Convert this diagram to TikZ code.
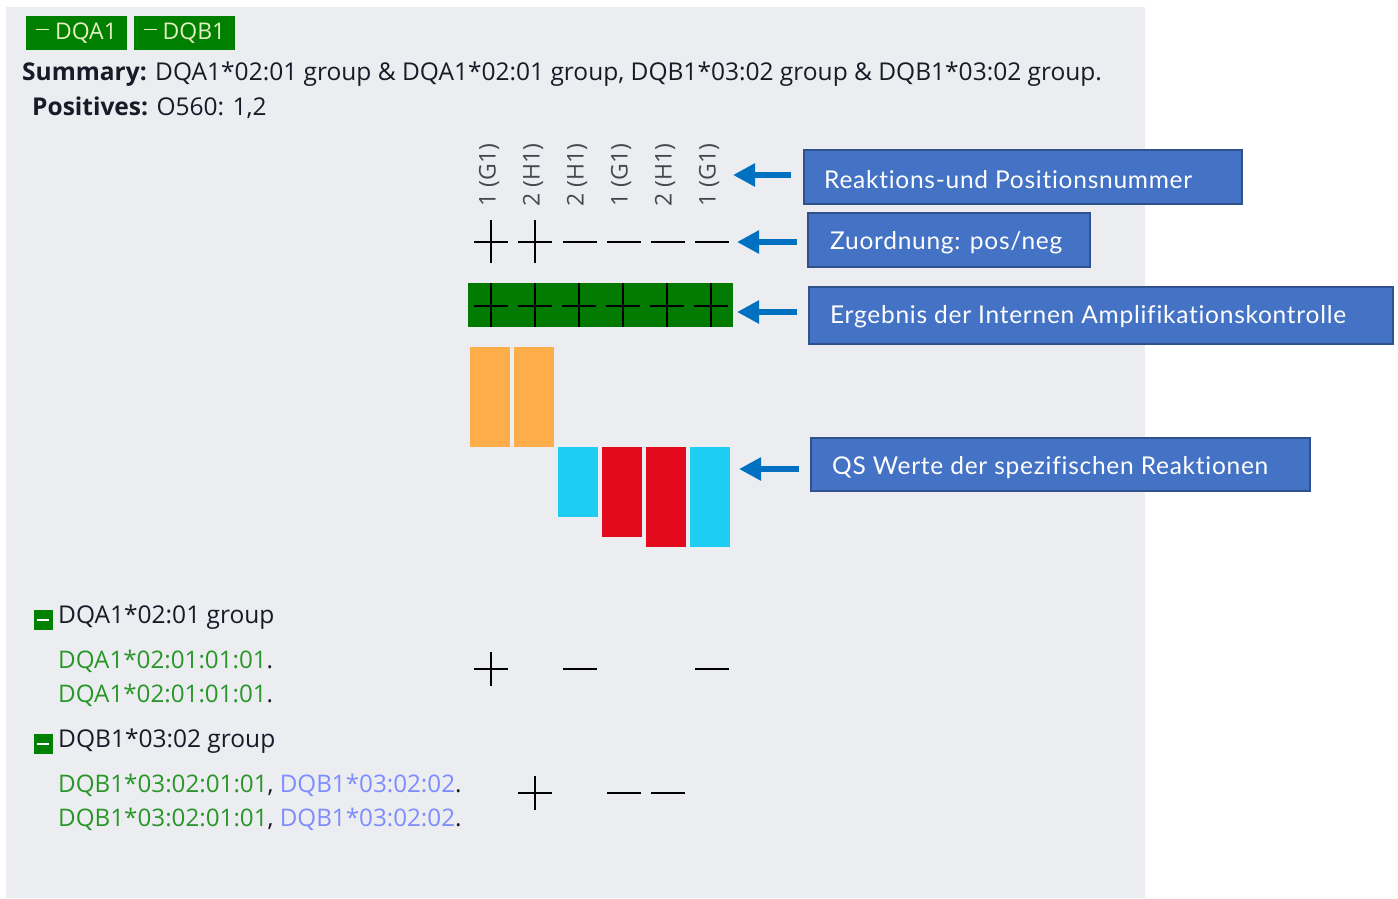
\documentclass[tikz,border=0pt]{standalone}
\usepackage{fontspec}
\setmainfont{Open Sans}
\newfontfamily\calloutfont[LetterSpace=3,Ligatures=NoCommon]{Lato}
\usetikzlibrary{arrows.meta}
\definecolor{bggrey}{RGB}{236,237,240}
\definecolor{btngreen}{RGB}{0,128,0}
\definecolor{bargreen}{RGB}{0,122,0}
\definecolor{btntext}{RGB}{228,238,192}
\definecolor{barorange}{RGB}{255,173,74}
\definecolor{barcyan}{RGB}{30,205,242}
\definecolor{barred}{RGB}{228,10,30}
\definecolor{callfill}{RGB}{68,114,196}
\definecolor{calldraw}{RGB}{47,82,143}
\definecolor{arrowblue}{RGB}{0,112,192}
\definecolor{greentext}{RGB}{40,150,40}
\definecolor{bluetext}{RGB}{125,140,255}
\definecolor{darktext}{RGB}{25,25,40}
\definecolor{labeltext}{RGB}{70,70,80}
\tikzset{
  btn/.style={fill=btngreen, draw=none, minimum width=101pt, minimum height=34pt, inner sep=0pt, text=btntext, font=\fontsize{23}{26}\selectfont},
  maintext/.style={anchor=west, inner sep=0pt, text=darktext, font=\fontsize{24.5}{28}\selectfont},
  subtext/.style={anchor=west, inner sep=0pt, text=greentext, font=\fontsize{24.2}{28}\selectfont},
  collabel/.style={rotate=90, inner sep=0pt, text=labeltext, font=\fontsize{23}{26}\selectfont},
  callout/.style={fill=callfill, draw=calldraw, line width=2pt, anchor=north west, inner sep=0pt},
  callouttext/.style={anchor=west, inner sep=0pt, text=white, font=\calloutfont\fontsize{24.5}{28}\selectfont},
  pointer/.style={draw=arrowblue, line width=6pt, -{Triangle[length=22pt,width=22pt]}},
  sign/.style={draw=black, line width=2pt},
  grpicon/.style={fill=btngreen, minimum width=19pt, minimum height=20pt, inner sep=0pt}
}
\begin{document}
\begin{tikzpicture}[x=1pt,y=-1pt]
\useasboundingbox (0,0) rectangle (1398,899);
\fill[bggrey] (6,7) rectangle (1145,898);
% buttons
\node[btn] (bA) at (76.5,33) {\raisebox{9pt}{\rule{13pt}{1.6pt}} DQA1};
\node[btn] (bB) at (184.5,33) {\raisebox{9pt}{\rule{13pt}{1.6pt}} DQB1};
% summary
\node[maintext] (sum) at (22,74) {\textbf{Summary:} DQA1*02:01 group \& DQA1*02:01 group, DQB1*03:02 group \& DQB1*03:02 group.};
\node[maintext] (pos) at (32,108) {\textbf{Positives:} O560: 1,2};
% column labels
\node[collabel] (l1) at (489,175) {1 (G1)};
\node[collabel] (l2) at (533,175) {2 (H1)};
\node[collabel] (l3) at (577,175) {2 (H1)};
\node[collabel] (l4) at (621,175) {1 (G1)};
\node[collabel] (l5) at (665,175) {2 (H1)};
\node[collabel] (l6) at (709,175) {1 (G1)};
% sign row
\foreach \x in {491,535} {\draw[sign] (\x-17,242) -- (\x+17,242); \draw[sign] (\x,220) -- (\x,263);}
\foreach \x in {580,624,668,712} {\draw[sign] (\x-17,242) -- (\x+17,242);}
% green IAC bar
\fill[bargreen] (468,283) rectangle (733,327);
\foreach \x in {491,535,579,623,667,711} {\draw[sign] (\x-17,306) -- (\x+17,306); \draw[sign] (\x,283) -- (\x,327);}
% QS bars
\fill[barorange] (470,347) rectangle (510,447);
\fill[barorange] (514,347) rectangle (554,447);
\fill[barcyan] (558,447) rectangle (598,517);
\fill[barred] (602,447) rectangle (642,537);
\fill[barred] (646,447) rectangle (686,547);
\fill[barcyan] (690,447) rectangle (730,547);
% callouts
\node[callout, minimum width=438pt, minimum height=54pt] (c1) at (803,149) {};
\node[callouttext] (t1) at (824,180) {Reaktions-und Positionsnummer};
\node[callout, minimum width=282pt, minimum height=54pt] (c2) at (807,212) {};
\node[callouttext] (t2) at (830,243) {Zuordnung: pos/neg};
\node[callout, minimum width=584pt, minimum height=57pt] (c3) at (808,286) {};
\node[callouttext] (t3) at (830,317) {Ergebnis der Internen Amplifikationskontrolle};
\node[callout, minimum width=499pt, minimum height=53pt] (c4) at (810,437) {};
\node[callouttext] (t4) at (832,468) {QS Werte der spezifischen Reaktionen};
% arrows
\coordinate (p1) at (733,175);
\coordinate (p2) at (737,242);
\coordinate (p3) at (737,312);
\coordinate (p4) at (739,469);
\draw[pointer] (c1.west |- p1) ++(-12,0) -- (p1);
\draw[pointer] (c2.west |- p2) ++(-10,0) -- (p2);
\draw[pointer] (c3.west |- p3) ++(-11,0) -- (p3);
\draw[pointer] (c4.west |- p4) ++(-11,0) -- (p4);
% groups
\node[grpicon] (gA) at (43,620) {};
\draw[white, line width=2pt] (gA.center) ++(-6,0) -- ++(12,0);
\node[maintext] (gtA) at (58,617) {DQA1*02:01 group};
\node[subtext] (sA1) at (58,661) {DQA1*02:01:01:01\textcolor{darktext}{.}};
\node[subtext] (sA2) at (58,695) {DQA1*02:01:01:01\textcolor{darktext}{.}};
\node[grpicon] (gB) at (43,744) {};
\draw[white, line width=2pt] (gB.center) ++(-6,0) -- ++(12,0);
\node[maintext] (gtB) at (58,741) {DQB1*03:02 group};
\node[subtext] (sB1) at (58,785) {DQB1*03:02:01:01\textcolor{darktext}{,} \textcolor{bluetext}{DQB1*03:02:02}\textcolor{darktext}{.}};
\node[subtext] (sB2) at (58,819) {DQB1*03:02:01:01\textcolor{darktext}{,} \textcolor{bluetext}{DQB1*03:02:02}\textcolor{darktext}{.}};
% group sign rows
\draw[sign] (474,669) -- (508,669); \draw[sign] (491,652) -- (491,686);
\draw[sign] (563,669) -- (597,669);
\draw[sign] (695,669) -- (729,669);
\draw[sign] (518,793) -- (552,793); \draw[sign] (535,776) -- (535,810);
\draw[sign] (607,793) -- (641,793);
\draw[sign] (651,793) -- (685,793);
\end{tikzpicture}
\end{document}
